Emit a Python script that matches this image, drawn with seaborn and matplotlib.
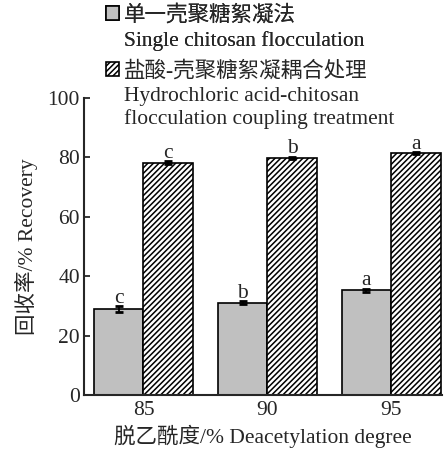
import matplotlib
matplotlib.use("Agg")
import matplotlib.pyplot as plt
import seaborn as sns
import pandas as pd
from matplotlib.patches import Patch

degrees = ["85", "90", "95"]
single_vals = [28.9, 31.0, 35.3]
single_err = [1.0, 0.5, 0.5]
single_letters = ["c", "b", "a"]
coupled_vals = [78.2, 79.9, 81.4]
coupled_err = [0.5, 0.4, 0.3]
coupled_letters = ["c", "b", "a"]
series = ["单一壳聚糖絮凝法", "盐酸-壳聚糖絮凝耦合处理"]
series_en = ["Single chitosan flocculation",
             "Hydrochloric acid-chitosan\nflocculation coupling treatment"]
yticks = [0, 20, 40, 60, 80, 100]

sns.set_style("ticks")
plt.rcParams["font.family"] = ["Liberation Serif", "Noto Sans CJK SC", "DejaVu Sans"]
plt.rcParams["hatch.linewidth"] = 1.1

FS = 15.5

df = pd.DataFrame({
    "deg": degrees * 2,
    "val": single_vals + coupled_vals,
    "grp": [series[0]] * 3 + [series[1]] * 3,
})

fig = plt.figure(figsize=(4.44, 4.5), dpi=100)
ax = fig.add_axes([84 / 444, 1 - 395 / 450, (442 - 84) / 444, (395 - 98) / 450])

sns.barplot(data=df, x="deg", y="val", hue="grp", order=degrees, hue_order=series,
            palette=["#c0c0c0", "white"], edgecolor="black", linewidth=1.2,
            width=0.8, errorbar=None, legend=False, ax=ax)

bars = ax.patches
errs = single_err + coupled_err
letters = single_letters + coupled_letters
vals = single_vals + coupled_vals
for i, p in enumerate(bars[:6]):
    if i >= 3:
        p.set_hatch("//////")
    cx = p.get_x() + p.get_width() / 2
    ax.errorbar(cx, vals[i], yerr=errs[i], color="black", capsize=3,
                elinewidth=1.3, capthick=2, fmt="none", zorder=5)
    ax.annotate(letters[i], (cx, vals[i] + errs[i]), xytext=(0, -1),
                textcoords="offset points", ha="center", va="bottom", fontsize=FS)

ax.set_ylim(0, 100)
ax.set_xlim(-0.48, 2.41)
ax.set_yticks(yticks)
ax.tick_params(axis="y", direction="in", length=4, width=1.3, labelsize=FS, pad=3)
ax.tick_params(axis="x", length=0, labelsize=FS, pad=4)
for s in ["top", "right"]:
    ax.spines[s].set_visible(False)
for s in ["left", "bottom"]:
    ax.spines[s].set_linewidth(1.5)
ax.set_ylabel("回收率/% Recovery", fontsize=FS, labelpad=7)
ax.set_xlabel("脱乙酰度/% Deacetylation degree", fontsize=FS, labelpad=4)

leg_kw = dict(loc="upper left", frameon=False, fontsize=FS, handlelength=0.6,
              handleheight=0.6, handletextpad=0.25, labelspacing=0.25,
              borderaxespad=0, borderpad=0)
h1 = [Patch(facecolor="#c0c0c0", edgecolor="black", linewidth=1.2),
      Patch(facecolor="none", edgecolor="none")]
h2 = [Patch(facecolor="white", edgecolor="black", hatch="//////", linewidth=1.2),
      Patch(facecolor="none", edgecolor="none")]
leg1 = fig.legend(h1, [series[0], series_en[0]],
                  bbox_to_anchor=(106 / 444, 1 - 5 / 450), **leg_kw)
fig.add_artist(leg1)
fig.legend(h2, [series[1], series_en[1]],
           bbox_to_anchor=(106 / 444, 1 - 61 / 450), **leg_kw)

fig.savefig("out.png", dpi=100)
